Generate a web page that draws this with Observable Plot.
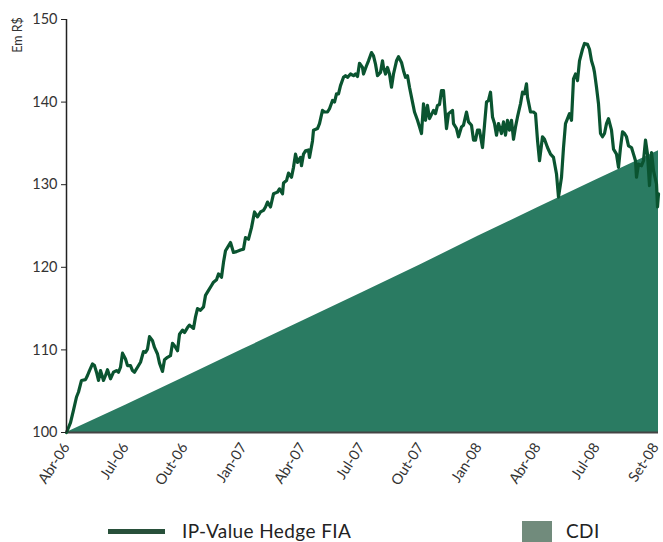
<!DOCTYPE html>
<html>
<head>
<meta charset="utf-8">
<script src="https://cdn.jsdelivr.net/npm/d3@7"></script>
<script src="https://cdn.jsdelivr.net/npm/@observablehq/plot@0.6"></script>
<style>
  body { margin: 0; background: #fff; font-family: Lato, "Open Sans", sans-serif; }
  #wrap { position: relative; width: 663px; height: 542px; overflow: hidden; }
  #unidade { position: absolute; left: 18px; top: 35px; font-size: 12.5px; color: #333; line-height: 1;
             transform: translate(-50%, -50%) rotate(-90deg); white-space: nowrap; }
  .sw-line { position: absolute; left: 108px; top: 529px; width: 57px; height: 5px; background: #28503a; }
  .sw-box { position: absolute; left: 522px; top: 521px; width: 30px; height: 24px; background: #718b7c; }
  .lab { position: absolute; font-size: 19px; color: #222; line-height: 1; white-space: nowrap; letter-spacing: 0.4px; }
</style>
</head>
<body>
<div id="wrap">
  <div id="chart"></div>
  <div id="unidade">Em R$</div>
  <div class="sw-line"></div>
  <div class="lab" style="left:182px; top:521px;">IP-Value Hedge FIA</div>
  <div class="sw-box"></div>
  <div class="lab" style="left:566px; top:521px;">CDI</div>
</div>
<script>
// Dias úteis desde o início (abr/06) e cota do fundo em R$ (base 100)
const dias = [0,4,7,10,12,15,19,21,23,26,28,30,32,34,37,39,41,44,47,50,52,54,56,59,61,64,66,68,71,74,77,79,81,83,86,88,91,93,96,98,101,104,106,108,111,113,116,118,121,123,
  127,129,131,134,137,139,142,145,147,150,152,155,157,159,162,164,167,170,174,177,179,182,185,188,191,194,197,199,201,204,207,211,213,216,217,220,222,225,227,229,231,234,235,237,239,242,243,246,247,251,253,256,258,261,263,266,268,270,272,274,277,279,281,284,287,289,291,293,296,297,300,302,305,307,309,311,314,316,317,319,321,323,325,327,330,332,335,337,339,341,343,346,348,351,353,355,357,359,361,363,
  367,369,371,373,375,377,380,382,386,387,390,392,395,397,400,402,405,407,409,411,413,416,418,420,422,424,426,428,430,432,435,437,439,441,443,445,447,449,451,454,456,458,460,461,464,467,469,471,473,476,478,481,484,487,490,492,495,497,499,501,503,505,507,509,511,513,516,518,521,523,525,527,528,530,532,534,536,538,540,542,545,547,550,552,554,556,558,560,562,565,567,569,570,572,575,577,579,581,583,585,587,590,591,592];
const fundo = [100.0,101.2,102.7,104.3,104.9,106.3,106.4,106.9,107.5,108.3,108.1,107.3,106.3,107.5,106.3,106.9,107.6,106.5,107.3,107.5,107.3,107.9,109.6,108.9,108.1,108.1,107.5,107.3,107.9,108.5,109.8,109.7,110.1,111.6,111.1,110.3,109.5,108.4,107.4,108.8,109.1,109.3,110.8,110.5,109.9,111.9,112.4,112.1,112.7,113.0,
  112.6,114.0,115.0,114.8,115.2,116.6,117.2,117.8,118.2,118.5,119.2,118.8,120.6,122.0,122.6,123.0,121.8,121.9,122.1,122.2,123.6,123.4,124.8,126.7,126.1,126.7,126.9,127.3,127.9,127.3,128.9,129.1,129.5,128.9,130.2,130.5,131.4,130.9,132.1,133.7,132.7,133.3,132.3,133.7,134.1,134.2,133.3,135.3,136.6,136.8,137.4,139.0,138.8,138.8,139.2,140.2,140.0,141.0,141.0,142.0,143.0,143.2,143.0,143.4,143.2,143.4,143.1,144.7,144.2,143.4,144.4,145.0,146.0,145.6,144.6,143.2,143.6,145.0,144.2,143.4,144.2,143.4,141.8,143.4,145.0,145.5,144.8,143.8,143.0,143.2,141.8,140.0,138.8,137.8,137.0,136.2,139.8,137.8,139.6,138.0,
  139.0,138.6,139.6,139.7,141.4,141.4,136.8,138.6,139.0,137.4,136.8,135.8,137.0,137.2,138.8,137.6,137.2,135.4,135.4,136.6,136.6,134.5,137.2,140.0,140.2,141.2,138.2,137.4,136.0,137.4,136.2,137.6,136.0,137.8,136.6,137.8,135.5,137.0,138.2,139.8,141.2,141.0,142.2,140.6,138.8,138.8,138.6,135.4,132.9,135.8,135.5,134.5,133.7,133.3,131.3,128.5,130.9,134.5,137.4,138.0,138.6,137.8,142.8,143.4,142.6,145.0,146.4,147.1,147.0,146.4,145.0,144.2,143.6,141.8,139.8,136.2,135.8,136.2,137.4,138.0,136.6,134.3,133.7,132.1,134.5,136.4,136.2,135.8,134.7,134.5,133.7,132.9,130.9,132.5,132.3,132.9,135.4,133.7,129.9,133.9,131.7,130.1,127.3,128.9];

// Rótulos do eixo de datas e dia útil correspondente
const rotulos = ["Abr-06","Jul-06","Out-06","Jan-07","Abr-07","Jul-07","Out-07","Jan-08","Abr-08","Jul-08","Set-08"];
const tickDias = [0,59,118,177,236,295,354,412,471,530,589];

// CDI acumulado (base 100)
const cdiDias = [0,59,118,177,236,295,354,412,471,530,592];
const cdi = [100.0,103.3,106.7,110.1,113.5,116.9,120.3,123.8,127.2,130.6,134.1];

const base = 100;
const yTicks = [100,110,120,130,140,150];

const serieFundo = dias.map((d, i) => ({dia: d, v: fundo[i]}));
const serieCdi = cdiDias.map((d, i) => ({dia: d, v: cdi[i]}));

const chart = Plot.plot({
  width: 663,
  height: 505,
  marginLeft: 66,
  marginRight: 5,
  marginTop: 19,
  marginBottom: 73,
  x: {domain: [0, 592], axis: null, label: null},
  y: {domain: [100, 150], axis: null, label: null},
  style: {fontFamily: "Lato, 'Open Sans', sans-serif", fontSize: "14px", color: "#333", background: "#fff"},
  marks: [
    Plot.areaY(serieCdi, {x: "dia", y1: () => base, y2: "v", fill: "#2a7b62"}),
    Plot.ruleY([base], {stroke: "#444", strokeWidth: 2}),
    Plot.line(serieFundo, {x: "dia", y: "v", stroke: "#0a5430", strokeWidth: 3.2, strokeLinejoin: "round"}),
    Plot.ruleX([0], {stroke: "#222", strokeWidth: 1.5}),
    Plot.axisY({ticks: yTicks, tickSize: 5, tickPadding: 4, fontSize: 14.5, stroke: "#222", label: null, tickFormat: d => d}),
    Plot.axisX({ticks: tickDias, tickSize: 0, tickRotate: -57, tickPadding: 12, dx: 0, fontSize: 14.5, label: null,
                tickFormat: d => rotulos[tickDias.indexOf(d)]})
  ]
});
document.getElementById("chart").appendChild(chart);
</script>
</body>
</html>
